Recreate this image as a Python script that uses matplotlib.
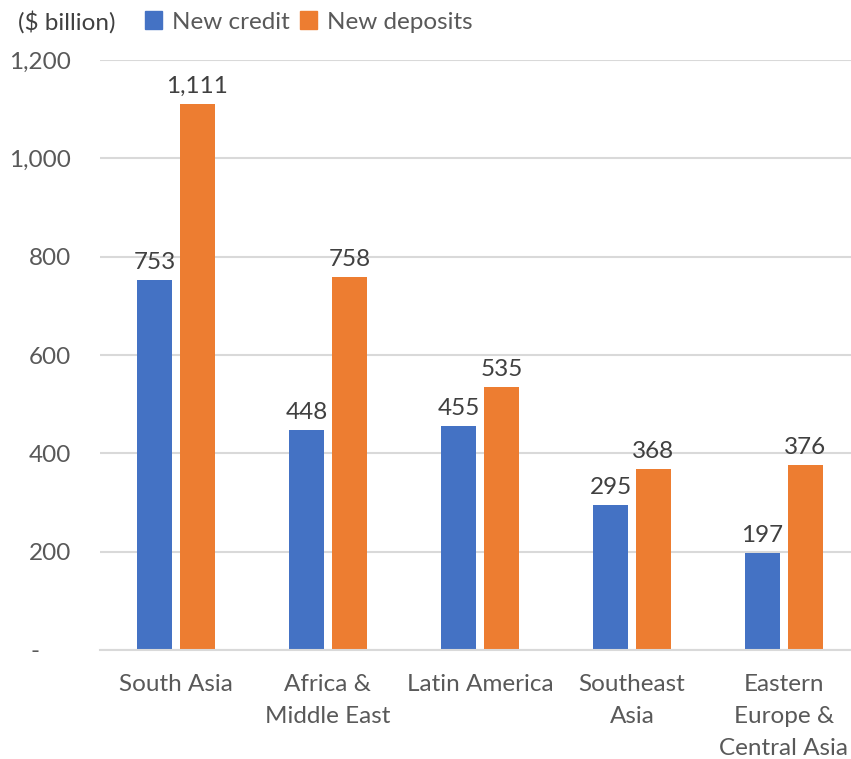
import numpy as np
import matplotlib.pyplot as plt
from matplotlib.patches import Patch

plt.rcParams['font.family'] = ['Lato', 'DejaVu Sans']

regions = ['South Asia', 'Africa &\nMiddle East', 'Latin America',
           'Southeast\nAsia', 'Eastern\nEurope &\nCentral Asia']
new_credit = [753, 448, 455, 295, 197]
new_deposits = [1111, 758, 535, 368, 376]

blue = '#4472C4'
orange = '#ED7D31'
txt = '#595959'
fs = 17.5

fig = plt.figure(figsize=(8.51, 7.59), dpi=100)
ax = fig.add_axes([100/851, 109/759, 760/851, 590/759])

x = np.arange(len(regions))
w = 0.23
off = 0.141
b1 = ax.bar(x - off, new_credit, w, color=blue)
b2 = ax.bar(x + off, new_deposits, w, color=orange)

for bars, vals in ((b1, new_credit), (b2, new_deposits)):
    for r, v in zip(bars, vals):
        ax.annotate(f'{v:,}', (r.get_x() + r.get_width()/2, v),
                    xytext=(0, 5), textcoords='offset points',
                    ha='center', va='bottom', fontsize=fs, color='#404040')

ax.set_xlim(-0.5, 4.5)
ax.set_ylim(0, 1200)
ax.set_yticks(range(0, 1201, 200))
ax.set_yticklabels(['-     '] + [f'{v:,}' for v in range(200, 1201, 200)])
ax.set_xticks(x)
ax.set_xticklabels(regions, linespacing=1.65)
ax.tick_params(axis='both', length=0, labelsize=fs, labelcolor=txt)
ax.tick_params(axis='y', pad=21)
ax.tick_params(axis='x', pad=17)

ax.grid(axis='y', color='#d9d9d9', linewidth=1.5)
ax.set_axisbelow(True)
for s in ['top', 'right', 'left']:
    ax.spines[s].set_visible(False)
ax.spines['bottom'].set_color('#d9d9d9')
ax.spines['bottom'].set_linewidth(1.5)

fig.text(18/851, 1 - 22/759, '($ billion)', fontsize=fs, color='#404040',
         va='center', ha='left')
handles = [Patch(color=blue, label='New credit'),
           Patch(color=orange, label='New deposits')]
fig.legend(handles=handles, loc='center left',
           bbox_to_anchor=(123/851, 1 - 22/759), ncol=2, frameon=False,
           fontsize=fs, handlelength=0.7, handleheight=0.7,
           handletextpad=0.4, columnspacing=0.45, labelcolor=txt)

fig.savefig('out.png', dpi=100)
